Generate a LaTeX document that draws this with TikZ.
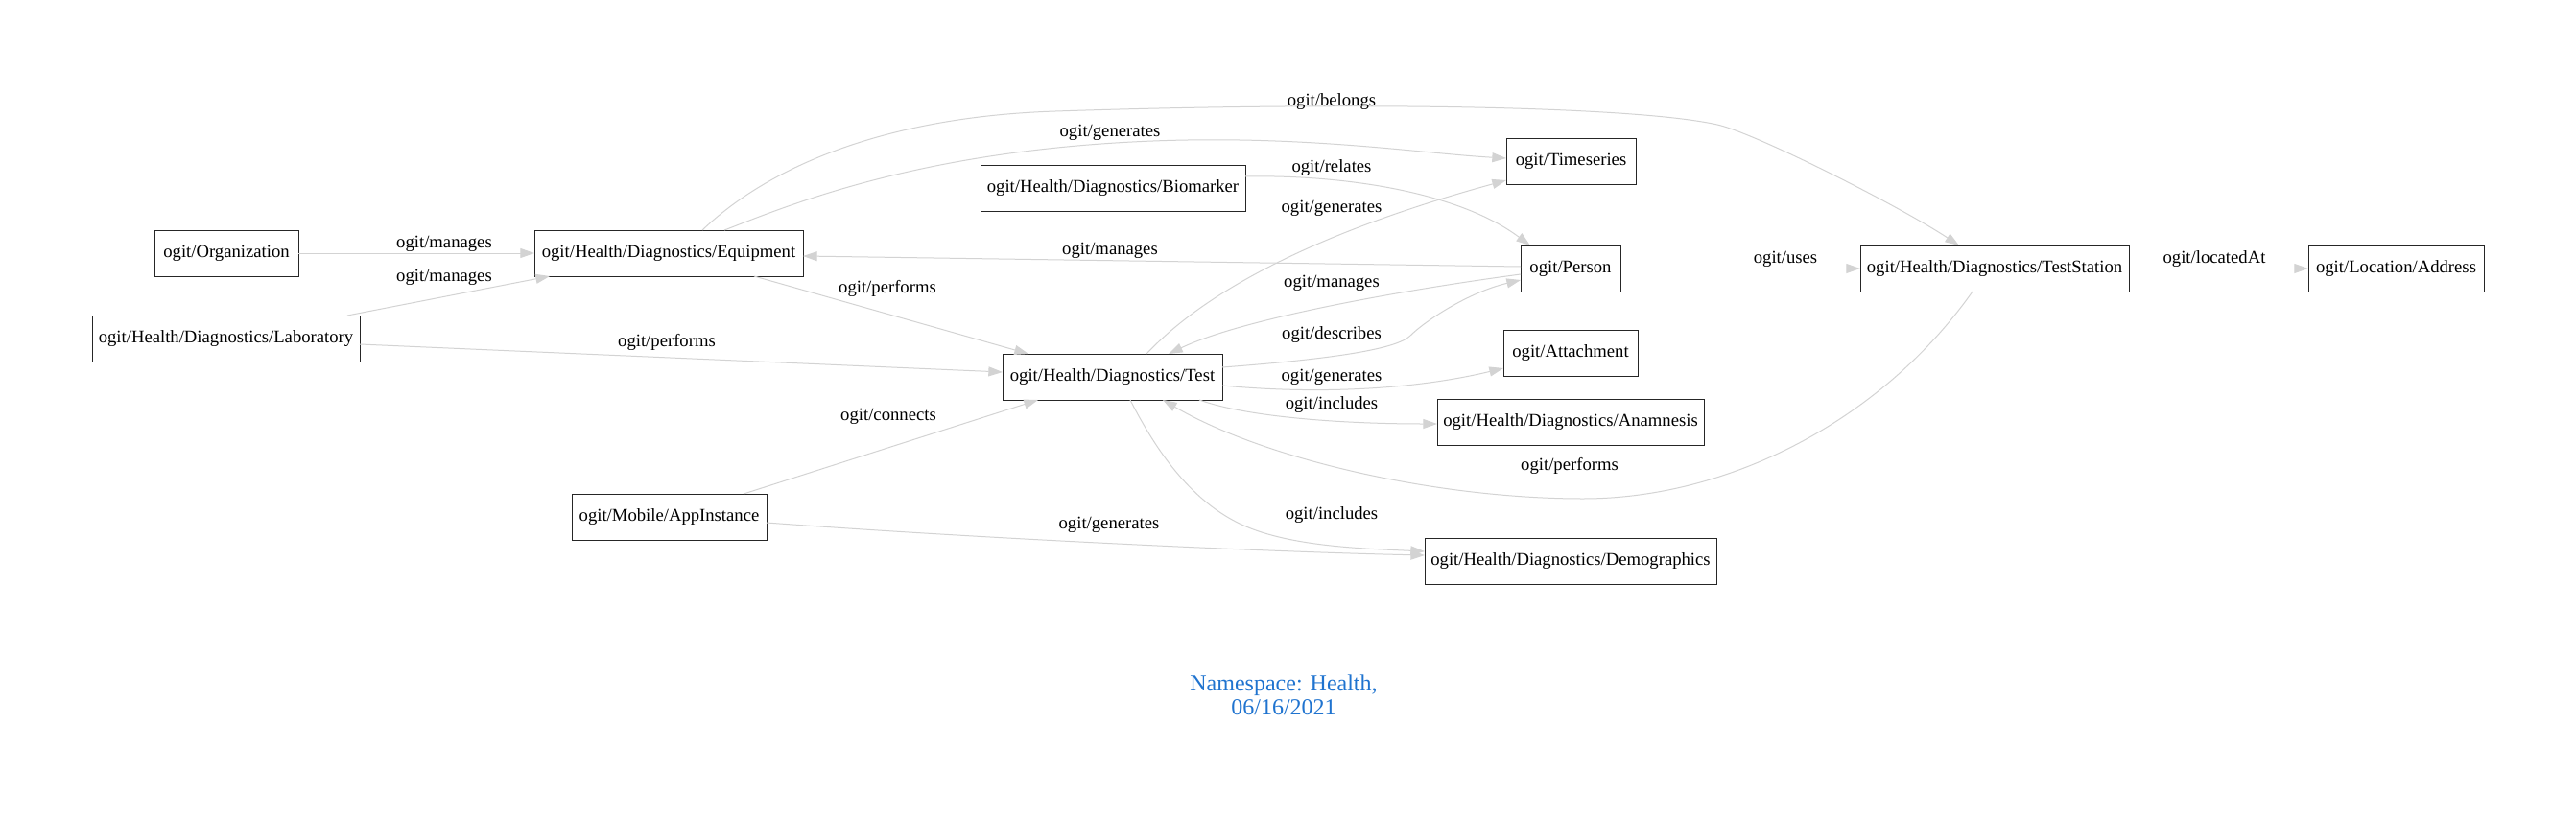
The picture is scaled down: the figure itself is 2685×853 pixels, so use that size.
\documentclass[tikz,border=0pt]{standalone}
\usepackage{fontspec}
\setmainfont{Liberation Serif}
\usetikzlibrary{arrows.meta,calc}
\definecolor{edgegray}{HTML}{D3D3D3}
\definecolor{titleblue}{HTML}{1F73CF}
\begin{document}
\begin{tikzpicture}[x=0.75pt,y=-0.75pt,
  box/.style={draw=black!85,line width=0.7pt,minimum height=36pt,inner sep=0pt,outer sep=0pt,font=\fontsize{14}{16}\selectfont},
  rel/.style={draw=edgegray,line width=0.75pt,-{Triangle[length=11pt,width=7.5pt]}},
  lbl/.style={font=\fontsize{14}{16}\selectfont,inner sep=0pt}]
\useasboundingbox (0,0) rectangle (2685,853);
% nodes
\node[box,minimum width=112.5pt] (org) at (236,264) {ogit/Organization};
\node[box,minimum width=210pt] (equip) at (697,264) {ogit/Health/Diagnostics/Equipment};
\node[box,minimum width=209.25pt] (lab) at (235.5,353) {ogit/Health/Diagnostics/Laboratory};
\node[box,minimum width=207pt] (bio) at (1160,196) {ogit/Health/Diagnostics/Biomarker};
\node[box,minimum width=101.25pt] (ts) at (1637.5,168) {ogit/Timeseries};
\node[box,minimum width=78pt] (person) at (1637,280) {ogit/Person};
\node[box,minimum width=210pt] (station) at (2079,280) {ogit/Health/Diagnostics/TestStation};
\node[box,minimum width=137.25pt] (addr) at (2497.5,280) {ogit/Location/Address};
\node[box,minimum width=171.75pt] (test) at (1159.5,393) {ogit/Health/Diagnostics/Test};
\node[box,minimum width=105pt] (att) at (1637,368) {ogit/Attachment};
\node[box,minimum width=208.5pt] (anam) at (1637,440) {ogit/Health/Diagnostics/Anamnesis};
\node[box,minimum width=152.25pt] (app) at (697.5,539) {ogit/Mobile/AppInstance};
\node[box,minimum width=228pt] (demo) at (1637,585) {ogit/Health/Diagnostics/Demographics};
\node[align=center,text=titleblue,font=\fontsize{18}{18.75}\selectfont,inner sep=0pt] (title) at (1338,724.5) {Namespace: Health,\\06/16/2021};
% edges
\draw[rel] (org.east) -- (equip.west);
\draw[rel] ($(lab.north west)+(266,0)$) -- ($(equip.south west)+(16,0)$);
\draw[rel] ($(lab.east)+(0,6)$) -- ($(test.west)+(0,-5)$);
\draw[rel] ($(equip.south west)+(229,0)$) -- ($(test.north west)+(27,0)$);
\draw[rel] ($(person.west)+(0,-2)$) -- ($(equip.east)+(0,3)$);
\draw[rel] ($(equip.north west)+(198,0)$) .. controls (820,215) and (950,160) .. (1180,148) .. controls (1350,139) and (1480,160) .. ($(ts.west)+(0,-3)$);
\draw[rel] ($(equip.north west)+(175,0)$) .. controls (800,175) and (920,122) .. (1100,116) .. controls (1400,106) and (1700,110) .. (1790,130) .. controls (1830,139) and (1980,215) .. ($(station.north west)+(103,0)$);
\draw[rel] ($(bio.east)+(0,-12)$) .. controls (1400,182) and (1520,200) .. ($(person.north west)+(10,0)$);
\draw[rel] ($(test.north west)+(150,0)$) .. controls (1260,300) and (1380,240) .. ($(ts.south west)+(0,-4)$);
\draw[rel] ($(person.west)+(0,6)$) .. controls (1480,300) and (1300,330) .. ($(test.north west)+(173,0)$);
\draw[rel] ($(test.east)+(0,-10)$) .. controls (1380,375) and (1455,365) .. (1470,350) .. controls (1485,335) and (1530,305) .. ($(person.west)+(0,12)$);
\draw[rel] (person.east) -- (station.west);
\draw[rel] (station.east) -- (addr.west);
\draw[rel] ($(test.east)+(0,9)$) .. controls (1380,412) and (1480,405) .. ($(att.west)+(0,16)$);
\draw[rel] ($(test.south east)+(-24,0)$) .. controls (1300,435) and (1400,442) .. ($(anam.west)+(0,2)$);
\draw[rel] ($(station.south west)+(117,0)$) .. controls (1960,440) and (1800,520) .. (1650,520) .. controls (1500,520) and (1320,480) .. ($(test.south west)+(167,0)$);
\draw[rel] ($(test.south west)+(133,0)$) .. controls (1205,470) and (1240,520) .. (1290,545) .. controls (1340,570) and (1420,572) .. ($(demo.west)+(0,-10)$);
\draw[rel] ($(app.north west)+(179,0)$) -- ($(test.south west)+(37,0)$);
\draw[rel] ($(app.east)+(0,6)$) .. controls (1000,560) and (1300,575) .. ($(demo.west)+(0,-6)$);
% labels
\node[lbl] (l1) at (463,254) {ogit/manages};
\node[lbl] (l2) at (463,289) {ogit/manages};
\node[lbl] (l3) at (695,357) {ogit/performs};
\node[lbl] (l4) at (925,301) {ogit/performs};
\node[lbl] (l5) at (1157,261) {ogit/manages};
\node[lbl] (l6) at (1157,138) {ogit/generates};
\node[lbl] (l7) at (1388,106) {ogit/belongs};
\node[lbl] (l8) at (1388,175) {ogit/relates};
\node[lbl] (l9) at (1388,217) {ogit/generates};
\node[lbl] (l10) at (1388,295) {ogit/manages};
\node[lbl] (l11) at (1388,349) {ogit/describes};
\node[lbl] (l12) at (1861,270) {ogit/uses};
\node[lbl] (l13) at (2308,270) {ogit/locatedAt};
\node[lbl] (l14) at (1388,393) {ogit/generates};
\node[lbl] (l15) at (1388,422) {ogit/includes};
\node[lbl] (l16) at (1636,486) {ogit/performs};
\node[lbl] (l17) at (1388,537) {ogit/includes};
\node[lbl] (l18) at (926,434) {ogit/connects};
\node[lbl] (l19) at (1156,547) {ogit/generates};
\end{tikzpicture}
\end{document}
